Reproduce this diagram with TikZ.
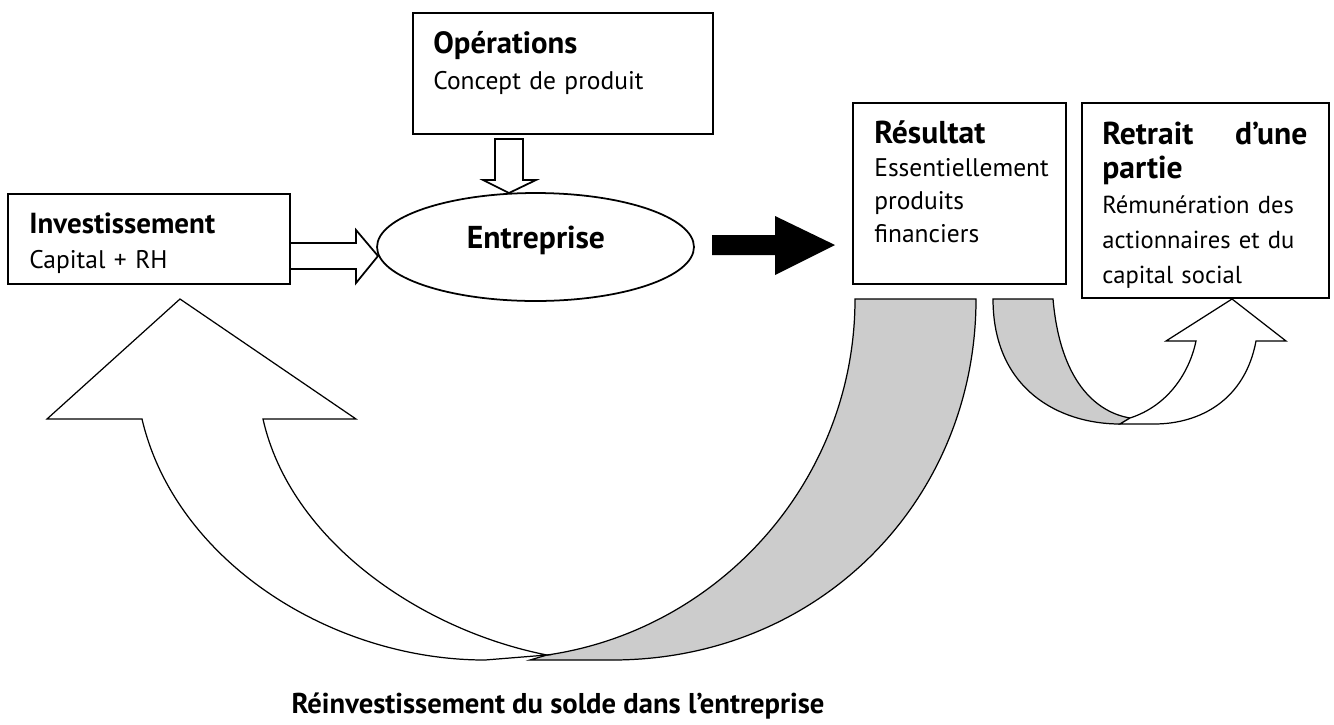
\documentclass[tikz,border=0pt]{standalone}
\usepackage{fontspec}
\setmainfont{PT Sans}
\usetikzlibrary{shapes.geometric}
\newcommand\diagfont{\fontsize{14.5}{20}\selectfont}
\newcommand\ttl[2]{{\fontsize{#1}{#1}\selectfont\bfseries #2}}
\tikzset{
  box/.style={draw, line width=1pt, anchor=north west, inner sep=0pt},
  txt/.style={anchor=base west, inner sep=0pt, align=left, font=\diagfont},
  band/.style={draw, line width=0.7pt, line join=miter},
  hollow/.style={draw, line width=1pt, fill=white},
}
\begin{document}
\begin{tikzpicture}[x=0.02cm, y=-0.02cm]
\useasboundingbox (0,0) rectangle (1334,724);
% boxes
\node[box, minimum width=6cm, minimum height=2.42cm] (ops) at (412,12) {};
\node[box, minimum width=5.64cm, minimum height=1.8cm] (inv) at (7,193) {};
\node[box, minimum width=4.26cm, minimum height=3.62cm] (res) at (852,102) {};
\node[box, minimum width=4.94cm, minimum height=3.9cm] (ret) at (1081,102) {};
\node[draw, ellipse, line width=1pt, inner sep=0pt,
  minimum width=6.34cm, minimum height=2.16cm] (ent) at (535.5,247) {};
% texts
\node[txt, text width=5.5cm, font=\fontsize{14.5}{21}\selectfont] (opstxt) at (433,53)
  {\ttl{17.5}{Opérations}\\Concept de produit};
\node[txt, text width=5cm, font=\fontsize{14.5}{20.4}\selectfont] (invtxt) at (29,233)
  {\ttl{16.5}{Investissement}\\Capital + RH};
\node[anchor=base, inner sep=0pt] (enttxt) at (536,248) {\ttl{18}{Entreprise}};
\node[txt, text width=3.7cm, font=\fontsize{14.5}{18.9}\selectfont] (restxt) at (874,143)
  {\ttl{18}{Résultat}\\Essentiellement\\produits\\financiers};
\node[txt, text width=4.1cm, font=\fontsize{14}{19.8}\selectfont] (rettxt) at (1102,144)
  {\ttl{18}{Retrait\hfill d’une}\\\ttl{18}{partie}\\Rémunération des\\actionnaires et du\\capital social};
\node[anchor=base, inner sep=0pt] (reinv) at (558,713)
  {\ttl{16.3}{Réinvestissement du solde dans l’entreprise}};
% straight block arrows
\draw[hollow] (495,139) -- (523,139) -- (523,180) -- (536,180) -- (509,193)
  -- (483,180) -- (495,180) -- cycle;
\draw[line width=1pt] (289,243) -- (356,243) -- (356,230) -- (378,256)
  -- (356,283) -- (356,269) -- (289,269);
\fill[black] (712,235) -- (775,235) -- (775,216) -- (835,245) -- (775,275)
  -- (775,255) -- (712,255) -- cycle;
% big curved arrow, back part then front part
\draw[band, fill=gray!40] (855,299) -- (976,299) .. controls (976,500) and (820,660) .. (612,660)
  -- (530,660) -- (547,655) .. controls (720,630) and (855,480) .. (855,299) -- cycle;
\draw[band, fill=white] (47,419) -- (180,299) -- (356,419) -- (263,419)
  .. controls (290,540) and (420,630) .. (547,655) -- (485,660)
  .. controls (330,660) and (175,560) .. (142,419) -- cycle;
% small curved arrow
\draw[band, fill=gray!40] (993,299) -- (1053,299) .. controls (1060,380) and (1095,412) .. (1130,418)
  -- (1120,424) .. controls (1060,424) and (993,390) .. (993,299) -- cycle;
\draw[band, fill=white] (1130,418) .. controls (1170,405) and (1190,370) .. (1196,341)
  -- (1166,341) -- (1232,299) -- (1286,341) -- (1256,341)
  .. controls (1245,400) and (1200,424) .. (1154,424) -- (1120,424) -- cycle;
\end{tikzpicture}
\end{document}
